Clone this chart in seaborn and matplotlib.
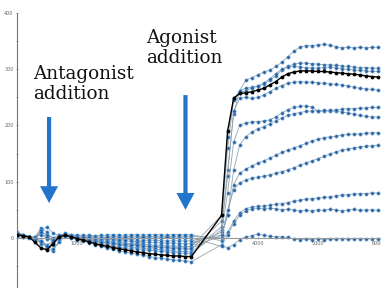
import numpy as np
import pandas as pd
import matplotlib
matplotlib.use("Agg")
import matplotlib.pyplot as plt
import seaborn as sns
from matplotlib.patches import FancyArrow

# ---------------------------
# Data
# ---------------------------
time_base = list(range(0, 3000, 100))        # before agonist
time_rise = list(range(3400, 6100, 100))     # after agonist

base = {
    "A": [5, 3, 1, 0, -6, -12, -6, 4, 6, 3, 0, -2, -4, -6, -8, -10, -11, -13, -14, -16, -17, -18, -19, -20, -21, -22, -23, -24, -24, -25],
    "B": [8, 5, 2, 0, 12, 4, -8, 2, 5, 2, 0, -2, -4, -5, -7, -8, -10, -11, -12, -13, -14, -15, -16, -17, -17, -18, -19, -19, -20, -20],
    "C": [3, 2, 0, -2, -10, -16, -8, 3, 5, 2, 0, -1, -3, -4, -5, -6, -7, -8, -9, -10, -11, -11, -12, -13, -13, -14, -14, -15, -15, -15],
    "ref": [6, 4, 2, -8, -18, -21, -10, 2, 5, 2, -1, -4, -7, -10, -13, -15, -17, -19, -21, -23, -25, -26, -28, -29, -30, -31, -32, -32, -33, -33],
    "D": [10, 6, 2, 0, -5, -18, -24, -4, 6, 2, -1, -3, -6, -8, -10, -12, -14, -16, -17, -19, -20, -21, -22, -23, -24, -25, -26, -27, -27, -28],
    "E": [4, 3, 1, 1, 8, -2, -4, 3, 5, 3, 1, 0, -1, -2, -3, -3, -4, -5, -5, -6, -7, -7, -8, -8, -9, -9, -9, -10, -10, -10],
    "F": [6, 4, 2, 1, 18, 10, -2, 4, 6, 4, 2, 1, 0, -1, -1, -2, -2, -3, -3, -3, -4, -4, -4, -4, -5, -5, -5, -5, -5, -5],
    "G": [7, 4, 1, -1, -8, -14, -12, 0, 5, 2, 0, -2, -4, -5, -7, -8, -9, -10, -11, -12, -13, -14, -15, -15, -16, -16, -17, -17, -18, -18],
    "H": [2, 2, 1, 1, 14, 20, 8, 5, 7, 5, 4, 3, 3, 2, 2, 2, 3, 2, 2, 3, 3, 2, 3, 3, 2, 3, 3, 3, 3, 3],
    "I": [5, 4, 2, 2, 10, 6, 0, 5, 8, 6, 5, 5, 5, 4, 5, 5, 6, 5, 5, 6, 6, 5, 6, 6, 6, 5, 6, 6, 6, 6],
    "J": [9, 6, 2, -1, -6, -14, -20, -8, 3, 0, -3, -6, -9, -12, -15, -18, -20, -23, -25, -27, -29, -31, -33, -35, -36, -38, -39, -40, -41, -42],
    "K": [4, 3, 1, 0, 6, 2, -3, 3, 5, 3, 2, 1, 1, 0, 0, 1, 0, 0, 1, 0, 0, 1, 0, 0, 0, 1, 0, 0, 0, 0],
}

rise = {
    "A": [20, 120, 220, 262, 280, 285, 290, 295, 298, 305, 312, 322, 332, 339, 342, 342, 343, 344, 343, 340, 338, 339, 338, 339, 338, 339, 339],
    "B": [30, 160, 245, 262, 266, 268, 270, 274, 280, 288, 298, 305, 309, 311, 311, 310, 309, 308, 308, 307, 306, 305, 304, 303, 303, 302, 302],
    "C": [40, 180, 248, 258, 262, 266, 270, 275, 283, 292, 300, 304, 305, 304, 303, 302, 302, 303, 304, 303, 301, 300, 299, 298, 297, 296, 296],
    "ref": [40, 190, 248, 257, 258, 260, 263, 266, 272, 278, 286, 292, 295, 297, 297, 297, 296, 296, 295, 294, 293, 292, 291, 290, 288, 287, 286],
    "D": [15, 110, 225, 248, 250, 248, 250, 254, 260, 266, 271, 275, 277, 278, 277, 277, 276, 275, 274, 273, 272, 270, 268, 266, 265, 264, 263],
    "E": [10, 80, 170, 200, 205, 206, 207, 208, 210, 215, 222, 228, 232, 234, 235, 233, 226, 225, 226, 225, 224, 222, 220, 218, 216, 215, 215],
    "F": [5, 40, 120, 165, 180, 188, 194, 198, 203, 208, 213, 218, 221, 223, 225, 226, 226, 227, 227, 228, 229, 230, 230, 231, 231, 232, 232],
    "G": [5, 40, 95, 115, 122, 128, 133, 137, 142, 147, 152, 156, 160, 164, 168, 172, 176, 178, 180, 181, 183, 184, 185, 185, 186, 187, 187],
    "H": [0, 50, 85, 98, 103, 106, 108, 110, 112, 115, 118, 121, 125, 129, 133, 137, 141, 145, 149, 153, 156, 158, 160, 162, 163, 164, 165],
    "I": [-5, 10, 30, 45, 52, 55, 56, 57, 58, 60, 61, 63, 65, 67, 69, 70, 71, 72, 73, 75, 76, 77, 78, 79, 79, 80, 80],
    "J": [-12, 5, 25, 40, 48, 52, 53, 52, 53, 52, 50, 51, 50, 48, 49, 48, 50, 49, 51, 50, 48, 50, 51, 49, 50, 50, 49],
    "K": [-15, -17, -12, -3, 2, 4, 7, 5, 3, 2, 2, 1, -2, -3, -2, -3, -1, -3, -2, -2, -1, -2, -2, -1, -2, -1, -1],
}

x_ticks = [1000, 2000, 3000, 4000, 5000, 6000]
y_ticks = [0, 100, 200, 300, 400]

# ---------------------------
# Long table for seaborn
# ---------------------------
rows = []
for name in base:
    for t, v in zip(time_base + time_rise, base[name] + rise[name]):
        rows.append({"series": name, "time": t, "value": v})
df = pd.DataFrame(rows)

# ---------------------------
# Plot
# ---------------------------
sns.set_style("white")
fig = plt.figure(figsize=(3.81, 2.88), dpi=100)
ax = fig.add_axes([17 / 381, 0.0, 1 - 17 / 381, 1 - 13 / 288])

blue = df[df["series"] != "ref"]
black = df[df["series"] == "ref"]

sns.lineplot(data=blue, x="time", y="value", units="series", estimator=None,
             color="#8d9aa6", lw=0.6, alpha=0.9, marker="o", markersize=2.3,
             markerfacecolor="#1d4f8a", markeredgecolor="#4c9be3",
             markeredgewidth=0.5, ax=ax, legend=False)
sns.lineplot(data=black, x="time", y="value", units="series", estimator=None,
             color="black", lw=1.0, marker="o", markersize=2.0,
             markerfacecolor="black", markeredgecolor="black",
             ax=ax, legend=False, zorder=5)

ax.set_xlim(0, 6050)
ax.set_ylim(-89, 400)
ax.set_xlabel("")
ax.set_ylabel("")

# axes: left spine at x=0, bottom spine through y=0
for s in ["top", "right"]:
    ax.spines[s].set_visible(False)
ax.spines["bottom"].set_position(("data", 0))
ax.spines["bottom"].set_color("#9a9a9a")
ax.spines["bottom"].set_linewidth(0.8)
ax.spines["left"].set_color("#777777")
ax.spines["left"].set_linewidth(0.8)

ax.set_xticks(x_ticks)
ax.set_yticks(y_ticks)
ax.set_yticks([-50, 50, 150, 250, 350], minor=True)
ax.tick_params(axis="both", which="major", labelsize=3.5, colors="#666666",
               length=2, width=0.5, pad=1.5, direction="inout")
ax.tick_params(axis="y", which="minor", length=1.5, width=0.5, colors="#777777",
               direction="inout")
ax.tick_params(axis="both", which="both", left=True, bottom=True)

# arrows
arrow_color = "#2274cc"
for x0, y_top, y_tip in [(533, 215, 62), (2800, 254, 50)]:
    ax.add_patch(FancyArrow(x0, y_top, 0, y_tip - y_top, width=70,
                            head_width=300, head_length=30,
                            length_includes_head=True, color=arrow_color,
                            lw=0, zorder=6))

# annotations
fig.text(33 / 381, 1 - 65 / 288, "Antagonist\naddition", family="DejaVu Serif",
         fontsize=13.2, va="top", ha="left", color="#111111", linespacing=1.15)
fig.text(146 / 381, 1 - 29 / 288, "Agonist\naddition", family="DejaVu Serif",
         fontsize=13.2, va="top", ha="left", color="#111111", linespacing=1.15)

fig.savefig("out.png", dpi=100)
